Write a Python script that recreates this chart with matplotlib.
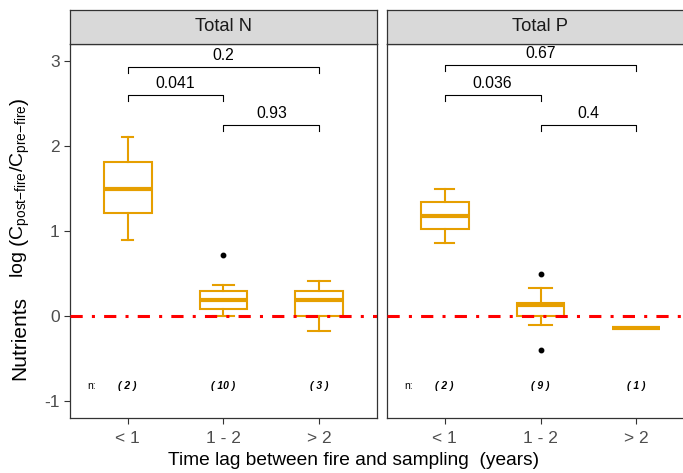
import numpy as np
import matplotlib.pyplot as plt

plt.rcParams['font.family'] = ['Liberation Sans', 'DejaVu Sans']
plt.rcParams['mathtext.fontset'] = 'custom'
plt.rcParams['mathtext.rm'] = 'Liberation Sans'
plt.rcParams['mathtext.it'] = 'Liberation Sans:italic'

ORANGE = '#E69F00'
GREY = '#4D4D4D'

groups = ['< 1', '1 - 2', '> 2']
panels = ['Total N', 'Total P']

# box stats per panel: lower whisker, q1, median, q3, upper whisker
whislo = {'Total N': [0.90, 0.00, -0.18], 'Total P': [0.86, -0.10, -0.14]}
q1 = {'Total N': [1.21, 0.08, 0.00], 'Total P': [1.02, 0.00, -0.14]}
med = {'Total N': [1.50, 0.19, 0.185], 'Total P': [1.18, 0.13, -0.14]}
q3 = {'Total N': [1.81, 0.29, 0.30], 'Total P': [1.345, 0.15, -0.14]}
whishi = {'Total N': [2.11, 0.36, 0.415], 'Total P': [1.49, 0.325, -0.14]}
fliers = {'Total N': [[], [0.72], []], 'Total P': [[], [0.50, -0.40], []]}
counts = {'Total N': [2, 10, 3], 'Total P': [2, 9, 1]}
caps = {'Total N': [0.12, 0.21, 0.23], 'Total P': [0.2, 0.24, 0.24]}

# pairwise comparisons: (group a, group b, bracket height, p-value)
comparisons = {
    'Total N': [(0, 2, 2.93, '0.2'), (0, 1, 2.60, '0.041'), (1, 2, 2.25, '0.93')],
    'Total P': [(0, 2, 2.95, '0.67'), (0, 1, 2.60, '0.036'), (1, 2, 2.25, '0.4')],
}

fig = plt.figure(figsize=(6.83, 4.73), dpi=100)
W, H = 683, 473
left_px = [70, 387]
panel_w = 307
top_px, bot_px, strip_top = 44, 418, 10

for i, name in enumerate(panels):
    ax = fig.add_axes([left_px[i] / W, 1 - bot_px / H, panel_w / W, (bot_px - top_px) / H])
    x = np.arange(1, 4)
    stats = []
    for k in range(3):
        stats.append(dict(whislo=whislo[name][k], q1=q1[name][k], med=med[name][k],
                          q3=q3[name][k], whishi=whishi[name][k], fliers=fliers[name][k]))
    ax.bxp(stats, positions=x, widths=0.5, patch_artist=True, manage_ticks=False,
           boxprops=dict(facecolor='white', edgecolor=ORANGE, linewidth=1.5),
           medianprops=dict(color=ORANGE, linewidth=3, solid_capstyle='butt'),
           whiskerprops=dict(color=ORANGE, linewidth=1.5),
           capprops=dict(color=ORANGE, linewidth=1.5),
           flierprops=dict(marker='o', markerfacecolor='black', markeredgecolor='black',
                           markersize=3.2), capwidths=caps[name])
    ax.axhline(0, color='red', linewidth=2.2, dashes=(4, 3, 1, 3), zorder=5)

    for a, b, yb, p in comparisons[name]:
        ax.plot([x[a], x[a], x[b], x[b]], [yb - 0.07, yb, yb, yb - 0.07],
                color='black', linewidth=0.8)
        ax.text((x[a] + x[b]) / 2, yb + 0.05, p, ha='center', va='bottom', fontsize=11.3)

    ax.text(0.58, -0.82, 'n:', ha='left', va='center', fontsize=7.5)
    for k in range(3):
        ax.text(x[k], -0.82, '( %d )' % counts[name][k], ha='center', va='center',
                fontsize=7.5, fontweight='bold', fontstyle='italic')

    ax.set_xlim(0.4, 3.6)
    ax.set_ylim(-1.2, 3.2)
    ax.set_xticks(x)
    ax.set_xticklabels(groups)
    ax.set_yticks([-1, 0, 1, 2, 3])
    ax.tick_params(colors='#333333', labelcolor=GREY, labelsize=12.5, width=0.8, length=4)
    ax.tick_params(axis='x', pad=5)
    if i == 0:
        ax.set_yticklabels(['-1', '0', '1', '2', '3'])
    else:
        ax.set_yticklabels([])
        ax.tick_params(axis='y', length=0)
    for sp in ax.spines.values():
        sp.set_color('#333333')
        sp.set_linewidth(0.9)

    sax = fig.add_axes([left_px[i] / W, 1 - top_px / H, panel_w / W, (top_px - strip_top) / H])
    sax.set_facecolor('#D9D9D9')
    sax.set_xticks([])
    sax.set_yticks([])
    for sp in sax.spines.values():
        sp.set_color('#333333')
        sp.set_linewidth(0.9)
    sax.text(0.5, 0.5, name, ha='center', va='center', fontsize=13.2,
             color='#1A1A1A', transform=sax.transAxes)

fig.text(20 / W, 1 - 338 / H, 'Nutrients', rotation=90, ha='center', va='center', fontsize=15)
fig.text(20 / W, 1 - 188 / H,
         r'log $\left(\mathrm{C}_{\mathrm{post{-}fire}}/\mathrm{C}_{\mathrm{pre{-}fire}}\right)$',
         rotation=90, ha='center', va='center', fontsize=14)
fig.text(354 / W, 1 - 460 / H, 'Time lag between fire and sampling  (years)',
         ha='center', va='center', fontsize=13.8)

fig.savefig('out.png', dpi=100)
